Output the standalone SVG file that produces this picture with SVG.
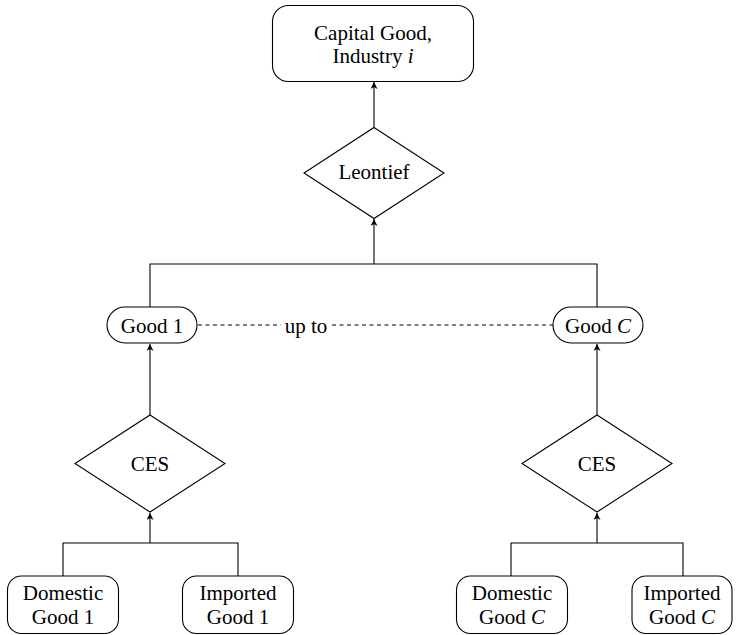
<svg xmlns="http://www.w3.org/2000/svg" width="738" height="635" viewBox="0 0 738 635">
<style>
.box{fill:#fff;stroke:#000;stroke-width:1.1}
text{font-family:'Liberation Serif','Times New Roman','DejaVu Serif',serif;font-size:21px;fill:#000;text-anchor:middle}
.i{font-style:italic}
.ln{fill:none;stroke:#000;stroke-width:1.1}
.dash{fill:none;stroke:#000;stroke-width:1;stroke-dasharray:4 3.5}
</style>
<defs>
<marker id="ah" viewBox="0 0 10 10" refX="10" refY="5" markerWidth="7" markerHeight="7" markerUnits="userSpaceOnUse" orient="auto">
<path d="M0,0 L10,5 L0,10 L3,5 Z" fill="#000"/>
</marker>
</defs>
<g id="connectors">
<line class="ln" x1="374" y1="127" x2="374" y2="82" marker-end="url(#ah)"/>
<polyline class="ln" points="150,307 150,264 597,264 597,307"/>
<line class="ln" x1="374" y1="264" x2="374" y2="219" marker-end="url(#ah)"/>
<line class="ln" x1="150" y1="415" x2="150" y2="344" marker-end="url(#ah)"/>
<line class="ln" x1="597" y1="415" x2="597" y2="344" marker-end="url(#ah)"/>
<polyline class="ln" points="63,576 63,543 238,543 238,576"/>
<line class="ln" x1="150" y1="543" x2="150" y2="513" marker-end="url(#ah)"/>
<polyline class="ln" points="511,576 511,543 683,543 683,576"/>
<line class="ln" x1="597" y1="543" x2="597" y2="513" marker-end="url(#ah)"/>
<line class="dash" x1="198" y1="325" x2="281" y2="325"/>
<line class="dash" x1="332" y1="325" x2="553" y2="325"/>
<text x="306" y="333" font-family="Liberation Serif, serif">up to</text>
</g>
<g id="capital">
<rect class="box" x="272.5" y="5.5" width="201" height="76" rx="16"/>
<text x="373" y="40">Capital Good,</text>
<text x="373" y="63">Industry <tspan class="i">i</tspan></text>
</g>
<g id="leontief">
<polygon class="box" points="374,127.5 444,173 374,218.5 304,173"/>
<text x="374" y="179">Leontief</text>
</g>
<g id="good1">
<rect class="box" x="107" y="307" width="90" height="36" rx="18"/>
<text x="152" y="333">Good 1</text>
</g>
<g id="goodC">
<rect class="box" x="553" y="307" width="90" height="36" rx="18"/>
<text x="598" y="333">Good <tspan class="i">C</tspan></text>
</g>
<g id="ces1">
<polygon class="box" points="150,415 225,463.5 150,512 75,463.5"/>
<text x="150" y="471">CES</text>
</g>
<g id="cesC">
<polygon class="box" points="597,415 672,463.5 597,512 522,463.5"/>
<text x="597" y="471">CES</text>
</g>
<g id="dom1">
<rect class="box" x="7.5" y="576" width="111" height="57.5" rx="14"/>
<text x="63" y="600">Domestic</text>
<text x="63" y="624">Good 1</text>
</g>
<g id="imp1">
<rect class="box" x="182.5" y="576" width="111" height="57.5" rx="14"/>
<text x="238" y="600">Imported</text>
<text x="238" y="624">Good 1</text>
</g>
<g id="domC">
<rect class="box" x="456.5" y="576" width="111" height="57.5" rx="14"/>
<text x="512" y="600">Domestic</text>
<text x="512" y="624">Good <tspan class="i">C</tspan></text>
</g>
<g id="impC">
<rect class="box" x="632" y="576" width="100" height="57.5" rx="14"/>
<text x="682" y="600">Imported</text>
<text x="682" y="624">Good <tspan class="i">C</tspan></text>
</g>
</svg>
